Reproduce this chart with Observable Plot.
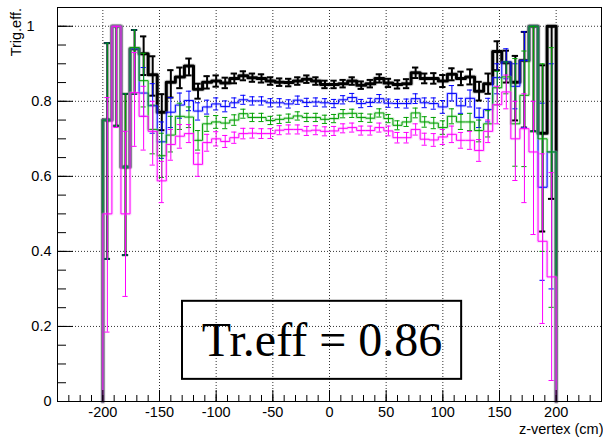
<!DOCTYPE html>
<html><head><meta charset="utf-8">
<script src="https://cdn.jsdelivr.net/npm/d3@7"></script>
<script src="https://cdn.jsdelivr.net/npm/@observablehq/plot@0.6"></script>
<style>body{margin:0;background:#fff;} svg{display:block;}</style>
</head><body><div id="chart"></div>
<script>
// bins: 50 bins of 8 cm from -200 to 200
const binEdges = d3.range(-200, 201, 8);

const blackVal = [0.75,1.0,0.625,0.94,0.927,0.871,0.771,0.851,0.865,0.894,
0.832,0.851,0.854,0.849,0.861,0.868,0.863,0.861,0.854,0.851,
0.850,0.854,0.859,0.854,0.845,0.845,0.847,0.854,0.843,0.847,
0.861,0.849,0.845,0.847,0.876,0.861,0.861,0.854,0.872,0.861,
0.865,0.827,0.847,0.933,0.903,0.851,0.909,1.0,0.715,1.0];
const blackLo = [0.38,0.735,0.39,0.82,0.87,0.815,0.723,0.81,0.835,0.869,
0.807,0.834,0.839,0.835,0.848,0.856,0.852,0.850,0.844,0.841,
0.840,0.844,0.849,0.844,0.835,0.835,0.837,0.844,0.833,0.837,
0.850,0.838,0.834,0.835,0.862,0.848,0.847,0.838,0.856,0.843,
0.845,0.802,0.820,0.883,0.850,0.749,0.730,0.720,0.453,0.540];
const blackHi = [0.955,1.0,0.82,0.99,0.973,0.92,0.819,0.883,0.89,0.914,
0.847,0.867,0.869,0.863,0.874,0.880,0.874,0.872,0.864,0.861,
0.860,0.864,0.869,0.864,0.855,0.855,0.857,0.864,0.853,0.857,
0.872,0.860,0.856,0.859,0.890,0.874,0.875,0.870,0.888,0.879,
0.885,0.852,0.874,0.960,0.935,0.921,0.985,1.0,0.896,1.0];

const blueVal = [0.75,1.0,0.625,0.94,0.822,0.788,0.692,0.771,0.790,0.802,
0.774,0.785,0.793,0.786,0.796,0.804,0.801,0.801,0.796,0.796,
0.793,0.803,0.797,0.798,0.796,0.794,0.804,0.810,0.794,0.797,
0.807,0.795,0.794,0.794,0.807,0.796,0.794,0.785,0.821,0.788,
0.808,0.757,0.778,0.863,0.905,0.840,0.909,1.0,0.571,0.665];
const blueLo = [0.38,0.735,0.39,0.82,0.76,0.715,0.648,0.73,0.755,0.775,
0.750,0.766,0.777,0.772,0.783,0.792,0.790,0.790,0.785,0.785,
0.782,0.792,0.786,0.787,0.785,0.783,0.793,0.799,0.783,0.786,
0.796,0.784,0.783,0.782,0.794,0.783,0.779,0.768,0.801,0.768,
0.785,0.730,0.745,0.820,0.860,0.780,0.730,0.720,0.323,0.300];
const blueHi = [0.955,1.0,0.82,0.99,0.89,0.847,0.745,0.81,0.822,0.827,
0.796,0.803,0.809,0.801,0.809,0.816,0.812,0.812,0.807,0.807,
0.804,0.814,0.808,0.809,0.807,0.805,0.815,0.821,0.805,0.808,
0.818,0.806,0.805,0.806,0.820,0.809,0.809,0.802,0.842,0.808,
0.830,0.782,0.808,0.900,0.940,0.900,0.985,1.0,0.795,0.900];

const greenVal = [0.75,1.0,0.625,0.943,0.855,0.725,0.655,0.710,0.760,0.758,
0.696,0.740,0.745,0.742,0.750,0.767,0.757,0.757,0.749,0.752,
0.755,0.761,0.757,0.757,0.752,0.754,0.767,0.768,0.757,0.755,
0.769,0.754,0.736,0.745,0.769,0.745,0.742,0.730,0.760,0.745,
0.745,0.722,0.740,0.836,0.865,0.740,0.816,1.0,0.700,0.665];
const greenLo = [0.38,0.735,0.39,0.82,0.785,0.66,0.597,0.665,0.725,0.73,
0.670,0.720,0.728,0.727,0.736,0.755,0.746,0.746,0.738,0.741,
0.744,0.750,0.746,0.746,0.741,0.743,0.756,0.757,0.746,0.744,
0.758,0.743,0.724,0.733,0.756,0.731,0.727,0.712,0.740,0.725,
0.722,0.692,0.705,0.790,0.820,0.627,0.626,0.720,0.400,0.251];
const greenHi = [0.955,1.0,0.82,0.99,0.928,0.79,0.715,0.76,0.795,0.785,
0.722,0.760,0.762,0.757,0.764,0.779,0.768,0.768,0.760,0.763,
0.766,0.772,0.768,0.768,0.763,0.765,0.778,0.779,0.768,0.766,
0.780,0.765,0.748,0.757,0.782,0.759,0.757,0.748,0.780,0.765,
0.768,0.750,0.775,0.880,0.905,0.914,0.934,1.0,0.900,0.943];

const magentaVal = [0.50,1.0,0.50,0.823,0.76,0.72,0.588,0.685,0.707,0.714,
0.632,0.690,0.700,0.693,0.703,0.714,0.715,0.714,0.714,0.723,
0.725,0.725,0.721,0.723,0.720,0.721,0.728,0.730,0.722,0.722,
0.730,0.721,0.703,0.703,0.725,0.699,0.697,0.705,0.712,0.696,
0.696,0.669,0.720,0.791,0.825,0.700,0.727,0.665,0.427,0.332];
const magentaLo = [0.185,0.73,0.28,0.68,0.67,0.63,0.53,0.643,0.675,0.69,
0.600,0.667,0.681,0.677,0.688,0.700,0.702,0.701,0.701,0.711,
0.713,0.713,0.709,0.711,0.708,0.709,0.716,0.718,0.710,0.710,
0.718,0.708,0.689,0.689,0.710,0.683,0.680,0.685,0.690,0.675,
0.672,0.640,0.690,0.740,0.780,0.589,0.530,0.445,0.208,0.056];
const magentaHi = [0.81,1.0,0.72,0.93,0.84,0.80,0.64,0.725,0.738,0.738,
0.662,0.712,0.719,0.709,0.718,0.728,0.728,0.727,0.727,0.735,
0.737,0.737,0.733,0.735,0.732,0.733,0.740,0.742,0.734,0.734,
0.742,0.734,0.717,0.717,0.740,0.715,0.714,0.725,0.734,0.717,
0.720,0.698,0.750,0.840,0.870,0.800,0.820,0.800,0.660,0.610];

const xMajorTicks = [-200,-150,-100,-50,0,50,100,150,200];
const xMinorTicks = d3.range(-240, 241, 10);
const yMajorTicks = [0,0.2,0.4,0.6,0.8,1];
const yTickLabels = ["0","0.2","0.4","0.6","0.8","1"];
const yMinorTicks = d3.range(0, 1.051, 0.05);
const effText = "Tr.eff = 0.86";
const xTitle = "z-vertex (cm)";
const yTitle = "Trig.eff.";
const boxCorners = {x1: -129.7, x2: 116.6, y1: 0.059, y2: 0.267}; // annotation pave, data coords

function bins(val, lo, hi) {
  return val.map((v, i) => ({l: binEdges[i], r: binEdges[i+1], c: (binEdges[i]+binEdges[i+1])/2, v, lo: lo[i], hi: hi[i]}));
}
function steps(b) {
  const pts = [{x: binEdges[0], y: 0}];
  b.forEach(d => { pts.push({x: d.l, y: d.v}); pts.push({x: d.r, y: d.v}); });
  pts.push({x: binEdges[binEdges.length-1], y: 0});
  return pts;
}
const series = [
  {b: bins(blackVal, blackLo, blackHi), color: "#000000", w: 3, ew: 2, cap: 2.8, halo: "#888"},
  {b: bins(blueVal, blueLo, blueHi), color: "#0000ff", w: 1, ew: 1, cap: 2.3, halo: "#8080ff"},
  {b: bins(greenVal, greenLo, greenHi), color: "#00a000", w: 1, ew: 1, cap: 2.3, halo: "#80d080"},
  {b: bins(magentaVal, magentaLo, magentaHi), color: "#ff00ff", w: 1, ew: 1, cap: 2.3, halo: "#ff90ff"}
];

const font = "Liberation Sans, Arial, Helvetica, sans-serif";
const marks = [
  Plot.ruleX(xMajorTicks, {stroke: "#333", strokeDasharray: "1,2", strokeWidth: 1}),
  Plot.ruleY(yMajorTicks.filter(d => d > 0), {stroke: "#333", strokeDasharray: "1,2", strokeWidth: 1}),
  Plot.rect([boxCorners], {x1: "x1", x2: "x2", y1: "y1", y2: "y2", fill: "none", stroke: "black", strokeWidth: 2}),
  Plot.text([effText], {x: (boxCorners.x1 + boxCorners.x2)/2, y: (boxCorners.y1 + boxCorners.y2)/2, text: d => d,
    fontSize: 48, fontFamily: "Liberation Serif, Times New Roman, serif", fill: "black", textAnchor: "middle", lineAnchor: "middle"})
];
for (const s of series) {
  marks.push(Plot.line(steps(s.b), {x: "x", y: "y", stroke: s.halo, strokeWidth: s.w + 2, strokeOpacity: 0.35}));
  marks.push(Plot.line(steps(s.b), {x: "x", y: "y", stroke: s.color, strokeWidth: s.w}));
  marks.push(Plot.ruleX(s.b, {x: "c", y1: "lo", y2: "hi", stroke: s.color, strokeWidth: s.ew}));
  marks.push(Plot.ruleY(s.b, {y: "lo", x1: d => d.c - s.cap, x2: d => d.c + s.cap, stroke: s.color, strokeWidth: s.ew}));
  marks.push(Plot.ruleY(s.b, {y: "hi", x1: d => d.c - s.cap, x2: d => d.c + s.cap, stroke: s.color, strokeWidth: s.ew}));
}
const innerW = 603 - 57 - 2, innerH = 437 - 7 - 36;
marks.push(
  Plot.frame({stroke: "black", strokeWidth: 1}),
  Plot.tickX(xMinorTicks, {x: d => d, stroke: "black", insetTop: innerH - 6}),
  Plot.tickX(xMajorTicks, {x: d => d, stroke: "black", insetTop: innerH - 11}),
  Plot.tickY(yMinorTicks, {y: d => d, stroke: "black", insetRight: innerW - 9}),
  Plot.tickY(yMajorTicks, {y: d => d, stroke: "black", insetRight: innerW - 16}),
  Plot.axisX(xMajorTicks, {tickSize: 0, tickPadding: 5, fontSize: 14.5, fontFamily: font, label: null, tickFormat: d => String(d), fill: "black"}),
  Plot.text(yMajorTicks.slice(0, 5), {y: d => d, frameAnchor: "left", text: (d, i) => yTickLabels[i], textAnchor: "end", dx: -6, fontSize: 14.5, fontFamily: font}),
  Plot.text([1], {y: d => d, frameAnchor: "left", text: () => yTickLabels[5], textAnchor: "start", dx: -31, fontSize: 14.5, fontFamily: font}),
  Plot.text([xTitle], {frameAnchor: "bottom-right", text: d => d, textAnchor: "end", dx: 2, dy: 32, fontSize: 14.5, fontFamily: font})
);

const chart = Plot.plot({
  width: 603, height: 437,
  marginLeft: 57, marginRight: 2, marginTop: 7, marginBottom: 36,
  x: {domain: [-240, 240], axis: null},
  y: {domain: [0, 1.05], axis: null},
  style: {background: "white", overflow: "visible"},
  marks
});
// rotated y-axis title, placed in the plot's own svg
d3.select(chart).append("text")
  .attr("transform", "translate(21,8) rotate(-90)")
  .attr("text-anchor", "end")
  .attr("font-family", font)
  .attr("font-size", 14.5)
  .attr("fill", "black")
  .text(yTitle);
document.getElementById("chart").appendChild(chart);
</script>
</body></html>
